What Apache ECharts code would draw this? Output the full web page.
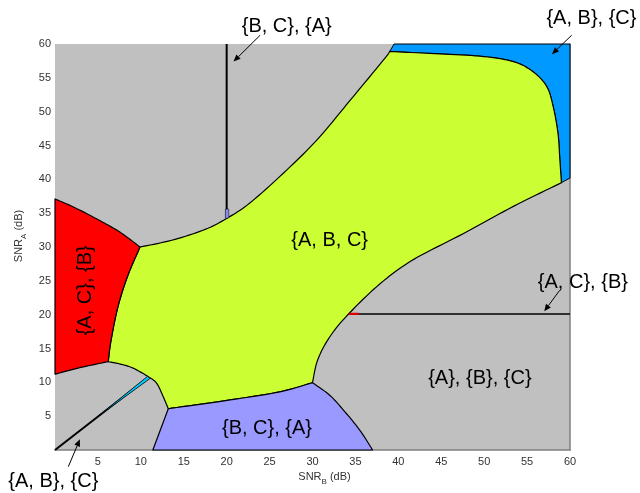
<!DOCTYPE html>
<html><head><meta charset="utf-8">
<script src="https://cdn.jsdelivr.net/npm/echarts@6/dist/echarts.min.js"></script>
<style>html,body{margin:0;padding:0;background:#fff}#c{width:640px;height:493px}</style>
</head><body><div id="c"></div>
<script>
// ---- data (SNR_B on x, SNR_A on y, dB) ----
const xTicks = [5,10,15,20,25,30,35,40,45,50,55,60];
const yTicks = [5,10,15,20,25,30,35,40,45,50,55,60];

// region boundary curves
const edgeRedTop      = [[0,37.1],[2.5,35.7],[5.8,33.5],[7.8,32.0],[9.9,30]];
const edgeRedYellow   = [[9.9,30],[8.4,25.5],[7.3,21],[6.5,16],[6.2,13.05]];
const edgeRedBottom   = [[6.2,13.05],[3,12.2],[0,11.2]];
const edgeYellowTop   = [[9.9,30],[13.6,31.0],[17.5,32.6],[20.1,34.3],[22.7,36.5],[26.6,40.9],[30.5,45.8],[34.4,51.7],[38.25,57.6],[39.0,58.9]];
const edgeCyanYellow  = [[39.0,58.9],[43.7,58.6],[49.5,58.2],[53.4,57.4],[55.7,55.9],[57.3,53.7],[58.05,50.7],[58.6,46.8],[58.8,43.3],[59.0,39.5]];
const edgeYellowRight = [[59.0,39.5],[53.4,36.0],[47.6,32.0],[41.7,28.1],[37.9,24.6],[34.2,20.1],[32.0,16.7],[30.6,13.3],[30.0,9.95]];
const edgeYellowViolet= [[30,9.95],[26.2,8.6],[20.4,7.4],[13.2,6.1]];
const edgeYellowArc   = [[13.2,6.1],[12.6,7.9],[11.85,9.85],[10.9,10.8],[9.1,12.1],[7.6,12.7],[6.2,13.05]];
const edgeVioletRight = [[30,9.95],[32,8.1],[33.6,5.9],[35.5,2.95],[37,0]];
const edgeVioletLeft  = [[11.4,0],[13.2,6.1]];
const edgeCyanOuter   = [[59.0,39.5],[60,40.2],[60,60],[39.5,60],[39.0,58.9]];

const wedgeRegion = [[4.9,4.85],[10.8,10.9],[11.05,10.55]];
const violetPatch = [[19.85,34.2],[20.25,34.3],[20.25,35.6],[19.85,35.6]];
const redPatch = [[34.2,19.95],[35.4,19.95],[35.4,20.3],[34.3,20.3]];
const lineBC_A = [[20,60],[20,34.3]];
const lineAC_B = [[34.2,20.1],[60,20.1]];
const lineAB_C = [[0,0],[10.9,10.75]];

const regionLabels = ['{A, B, C}','{A}, {B}, {C}','{B, C}, {A}','{A, C}, {B}'];
const regionLabelPos = [[32.0,31.0],[49.5,10.6],[24.7,3.2],[3.5,23.6]];
const regionLabelRot = [0,0,0,90];

const calloutLabels = ['{B, C}, {A}','{A, B}, {C}','{A, C}, {B}','{A, B}, {C}'];
const calloutPos = [[27.0,62.66],[62.5,63.8],[61.5,24.8],[-0.2,-4.7]];
const calloutArrowFrom = [[23.9,61.3],[60.2,61.3],[58.8,23.6],[1.55,-2.47]];
const calloutArrowTo = [[20.8,57.4],[57.9,58.5],[57.0,20.5],[2.9,1.58]];

// ---- rendering ----
const FONT = 'Liberation Sans, Arial, sans-serif';
const chart = echarts.init(document.getElementById('c'), null, {renderer:'canvas'});

// smooth an edge (Catmull-Rom) in pixel space; straight if only 2 points
function smoothPix(p) {
  if (p.length < 3) return p.slice();
  const out = [];
  const n = p.length;
  for (let i = 0; i < n-1; i++) {
    const p0 = p[Math.max(i-1,0)], p1 = p[i], p2 = p[i+1], p3 = p[Math.min(i+2,n-1)];
    for (let k = 0; k < 10; k++) {
      const t = k/10, t2 = t*t, t3 = t2*t;
      out.push([0,1].map(j => 0.5*((2*p1[j]) + (-p0[j]+p2[j])*t + (2*p0[j]-5*p1[j]+4*p2[j]-p3[j])*t2 + (-p0[j]+3*p1[j]-3*p2[j]+p3[j])*t3)));
    }
  }
  out.push(p[n-1]);
  return out;
}
// parts: list of [edge, reversed, smooth]
function regionSeries(parts, fill, stroke, lw, z) {
  return {type:'custom', coordinateSystem:'cartesian2d', z:z, silent:true, clip:false,
    data:[[0,0]],
    renderItem:function(params, api){
      let pts = [];
      parts.forEach(([edge, rev, sm]) => {
        let e = edge.map(d=>api.coord(d));
        if (rev) e = e.reverse();
        e = sm ? smoothPix(e) : e;
        pts = pts.concat(e);
      });
      return {type:'polygon', shape:{points:pts}, style:{fill:fill, stroke:stroke, lineWidth:lw, lineJoin:'round'}};
    }};
}
function polySeries(pts, fill, stroke, lw, z) {
  return {type:'custom', coordinateSystem:'cartesian2d', z:z, silent:true, clip:false,
    data:[[0,0]],
    renderItem:function(params, api){
      const p = pts.map(d=>api.coord(d));
      return {type:'polygon', shape:{points:p}, style:{fill:fill, stroke:stroke, lineWidth:lw, lineJoin:'round'}};
    }};
}
function lineSeries(pts, color, lw, z) {
  return {type:'custom', coordinateSystem:'cartesian2d', z:z, silent:true, clip:false,
    data:[[0,0]],
    renderItem:function(params, api){
      const p = pts.map(d=>api.coord(d));
      return {type:'polyline', shape:{points:p}, style:{stroke:color, lineWidth:lw, fill:null}};
    }};
}

const series = [
  regionSeries([[edgeCyanYellow,false,true],[edgeCyanOuter,false,false]], '#0099FF', '#000', 1, 2),
  regionSeries([[edgeYellowTop,false,true],[edgeCyanYellow,false,true],[edgeYellowRight,false,true],[edgeYellowViolet,false,true],[edgeYellowArc,false,true],[edgeRedYellow,true,true]], '#CCFF33', '#000', 1.2, 3),
  regionSeries([[edgeRedTop,false,true],[edgeRedYellow,false,true],[edgeRedBottom,false,true],[[[0,11.2],[0,37.1]],false,false]], '#FF0000', '#000', 1.2, 4),
  regionSeries([[edgeVioletLeft,false,false],[edgeYellowViolet,true,true],[edgeVioletRight,false,true]], '#9999FF', '#000', 1.2, 4),
  lineSeries(lineAB_C, '#000', 2, 5),
  polySeries(wedgeRegion, '#00CCFF', '#000', 0.8, 6),
  lineSeries(lineBC_A, '#000', 2, 5),
  lineSeries(lineAC_B, '#000', 1.6, 5),
  polySeries(violetPatch, '#8888EE', '#000', 0.5, 6),
  polySeries(redPatch, '#DD0000', null, 0, 6),
  {type:'custom', coordinateSystem:'cartesian2d', z:10, silent:true, clip:false,
    data: regionLabelPos.map((p,i)=>[p[0],p[1],i]),
    renderItem:function(params, api){
      const i = api.value(2);
      const c = api.coord([api.value(0), api.value(1)]);
      return {type:'text', x:c[0], y:c[1], rotation: regionLabelRot[i]*Math.PI/180,
        style:{text:regionLabels[i], fill:'#000', font:'20px '+FONT, align:'center', verticalAlign:'middle'}};
    }},
  {type:'custom', coordinateSystem:'cartesian2d', z:10, silent:true, clip:false,
    data: calloutPos.map((p,i)=>[p[0],p[1],i]),
    renderItem:function(params, api){
      const i = api.value(2);
      const c = api.coord([api.value(0), api.value(1)]);
      const a = api.coord(calloutArrowFrom[i]);
      const b = api.coord(calloutArrowTo[i]);
      const dx = b[0]-a[0], dy = b[1]-a[1], L = Math.hypot(dx,dy);
      const ux = dx/L, uy = dy/L, hl = 7, hw = 3;
      const bx = b[0]-ux*hl, by = b[1]-uy*hl;
      return {type:'group', children:[
        {type:'text', x:c[0], y:c[1], style:{text:calloutLabels[i], fill:'#000', font:'20px '+FONT, align:'center', verticalAlign:'middle'}},
        {type:'line', shape:{x1:a[0], y1:a[1], x2:bx, y2:by}, style:{stroke:'#000', lineWidth:1}},
        {type:'polygon', shape:{points:[[b[0],b[1]],[bx-uy*hw, by+ux*hw],[bx+uy*hw, by-ux*hw]]}, style:{fill:'#000'}}
      ]};
    }}
];

const option = {
  animation:false,
  backgroundColor:'#fff',
  grid:{left:55, right:70, top:44, bottom:43, show:true, backgroundColor:'#C0C0C0', borderWidth:0},
  xAxis:[{type:'value', min:0, max:60, interval:5, position:'bottom',
    axisLine:{show:true, onZero:false, lineStyle:{color:'#808080', width:1.5}},
    axisTick:{show:false}, splitLine:{show:false},
    axisLabel:{formatter:v=> xTicks.includes(v)? String(v):'', color:'#333', fontSize:11, fontFamily:FONT, margin:6},
    name:'{m|SNR}{s|B}{m| (dB)}', nameLocation:'middle', nameGap:20,
    nameTextStyle:{padding:[0,0,0,24], rich:{m:{fontSize:11, color:'#333', fontFamily:FONT, lineHeight:14, verticalAlign:'top'}, s:{fontSize:8, color:'#333', fontFamily:FONT, lineHeight:6, verticalAlign:'bottom'}}}
  }],
  yAxis:[{type:'value', min:0, max:60, interval:5, position:'left',
    axisLine:{show:false}, axisTick:{show:false}, splitLine:{show:false},
    axisLabel:{formatter:v=> yTicks.includes(v)? String(v):'', color:'#333', fontSize:11, fontFamily:FONT, margin:4},
    name:'{m|SNR}{s|A}{m| (dB)}', nameLocation:'middle', nameGap:19,
    nameTextStyle:{padding:[0,0,0,22], rich:{m:{fontSize:11, color:'#333', fontFamily:FONT, lineHeight:14, verticalAlign:'top'}, s:{fontSize:8, color:'#333', fontFamily:FONT, lineHeight:6, verticalAlign:'bottom'}}}
  },{type:'value', min:0, max:60, interval:5, position:'right',
    axisLine:{show:true, lineStyle:{color:'#808080', width:1.5}}, axisTick:{show:false}, splitLine:{show:false}, axisLabel:{show:false}
  }],
  series: series
};
chart.setOption(option);
</script>
</body></html>
